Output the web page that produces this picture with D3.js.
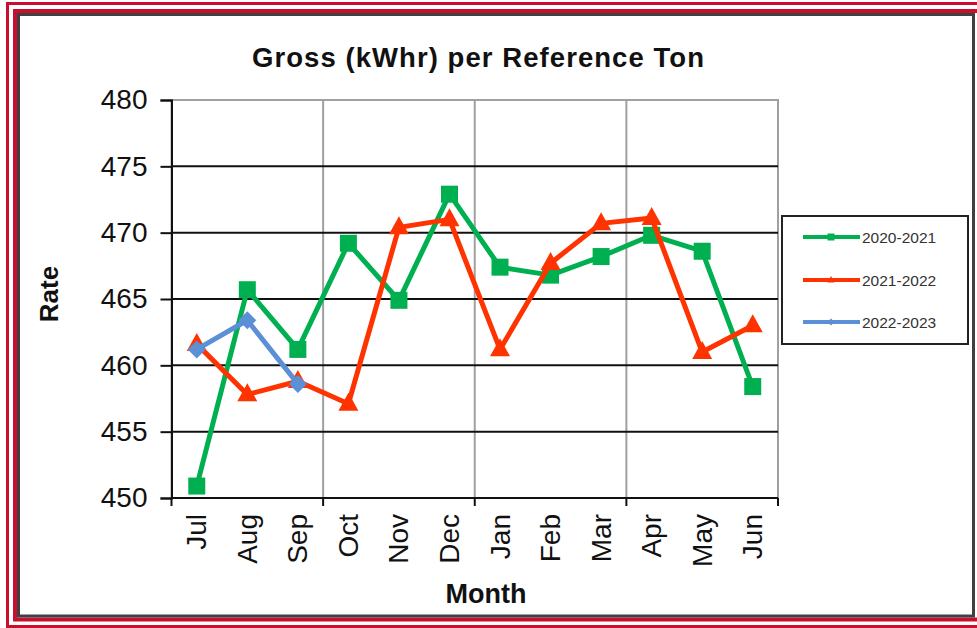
<!DOCTYPE html>
<html><head><meta charset="utf-8">
<script src="https://cdn.jsdelivr.net/npm/d3@7"></script>
<style>html,body{margin:0;padding:0;background:#fff;}svg{display:block;}</style>
</head><body>
<svg id="chart" width="977" height="628"></svg>
<script>
const months = ["Jul","Aug","Sep","Oct","Nov","Dec","Jan","Feb","Mar","Apr","May","Jun"];
const series2020_2021 = [450.9, 465.7, 461.2, 469.2, 464.9, 472.9, 467.4, 466.8, 468.2, 469.8, 468.6, 458.4];
const series2021_2022 = [461.6, 457.8, 458.8, 457.1, 470.4, 471.0, 461.2, 467.7, 470.7, 471.1, 461.0, 463.0];
const series2022_2023 = [461.2, 463.4, 458.6];
const yTicks = [450, 455, 460, 465, 470, 475, 480];
const seriesNames = ["2020-2021", "2021-2022", "2022-2023"];
const seriesColors = ["#00b050", "#ff3300", "#5b8fd6"];
const seriesMarkers = ["square", "triangle", "diamond"];
const seriesValues = [series2020_2021, series2021_2022, series2022_2023];

const svg = d3.select("#chart");
const FONT = "'Liberation Sans', Arial, sans-serif";
const red = "#c8102e";

// Frame
svg.append("rect").attr("x",0).attr("y",0).attr("width",977).attr("height",628).attr("fill","#fff");
svg.append("rect").attr("x",7.5).attr("y",3.5).attr("width",990).attr("height",623).attr("fill","none").attr("stroke",red).attr("stroke-width",3);
svg.append("rect").attr("x",15).attr("y",11).attr("width",990).attr("height",608.5).attr("fill","none").attr("stroke",red).attr("stroke-width",4);
svg.append("rect").attr("x",18.5).attr("y",14.5).attr("width",955).attr("height",601.5).attr("fill","#fff").attr("stroke","#404040").attr("stroke-width",3);

const L = 171.5, R = 778, T = 100, B = 498;
const x = d3.scaleBand().domain(months).range([L, R]).padding(0);
const y = d3.scaleLinear().domain([450, 480]).range([B, T]);

// plot border (gray)
svg.append("rect").attr("x",L).attr("y",T).attr("width",R-L).attr("height",B-T).attr("fill","#fff").attr("stroke","#a0a0a0").attr("stroke-width",2);

// vertical gridlines every 3 categories
const vIdx = [3, 6, 9];
svg.append("g").selectAll("line").data(vIdx).join("line")
  .attr("x1", i => x(months[i])).attr("x2", i => x(months[i]))
  .attr("y1", T).attr("y2", B)
  .attr("stroke", "#a0a0a0").attr("stroke-width", 2);

// horizontal gridlines
svg.append("g").selectAll("line").data(yTicks.filter(v => v > 450 && v < 480)).join("line")
  .attr("x1", L).attr("x2", R).attr("y1", d => y(d)).attr("y2", d => y(d))
  .attr("stroke", "#111").attr("stroke-width", 2);

// Y axis
const yAxis = d3.axisLeft(y).tickValues(yTicks).tickSize(11).tickPadding(13).tickFormat(d3.format("d"));
const gy = svg.append("g").attr("transform", `translate(${L},0)`).call(yAxis);
gy.select(".domain").attr("stroke", "#111").attr("stroke-width", 2);
gy.selectAll(".tick line").attr("stroke", "#111").attr("stroke-width", 2);
gy.selectAll(".tick text").attr("font-family", FONT).attr("font-size", 28).attr("fill", "#111");

// X axis line
svg.append("line").attr("x1", L).attr("x2", R).attr("y1", B).attr("y2", B).attr("stroke", "#111").attr("stroke-width", 2);
const tickIdx = [0, 3, 6, 9, 12];
svg.append("g").selectAll("line").data(tickIdx).join("line")
  .attr("x1", i => i < 12 ? x(months[i]) : R).attr("x2", i => i < 12 ? x(months[i]) : R)
  .attr("y1", B).attr("y2", B + 8).attr("stroke", "#111").attr("stroke-width", 2);

// X labels rotated
svg.append("g").selectAll("text").data(months).join("text")
  .attr("transform", d => `translate(${x(d) + x.bandwidth()/2},514) rotate(-90)`)
  .attr("text-anchor", "end").attr("dominant-baseline", "central")
  .attr("font-family", FONT).attr("font-size", 28).attr("fill", "#111")
  .text(d => d);

// Title
svg.append("text").attr("x", 478).attr("y", 67).attr("text-anchor", "middle")
  .attr("font-family", FONT).attr("font-weight", "bold").attr("font-size", 27.5).attr("fill", "#111")
  .attr("textLength", 452).attr("lengthAdjust", "spacing")
  .text("Gross (kWhr)  per Reference Ton");

// Axis titles
svg.append("text").attr("transform", "translate(58,294) rotate(-90)").attr("text-anchor", "middle")
  .attr("font-family", FONT).attr("font-weight", "bold").attr("font-size", 26).attr("fill", "#111")
  .text("Rate");
svg.append("text").attr("x", 486).attr("y", 603).attr("text-anchor", "middle")
  .attr("font-family", FONT).attr("font-weight", "bold").attr("font-size", 27).attr("fill", "#111")
  .text("Month");

function markerPath(type, s) {
  if (type === "square") return `M${-s/2},${-s/2}h${s}v${s}h${-s}Z`;
  if (type === "triangle") { const h = s*0.9; return `M0,${-h*0.62}L${s/2},${h*0.38}L${-s/2},${h*0.38}Z`; }
  return `M0,${-s/2}L${s/2},0L0,${s/2}L${-s/2},0Z`;
}
const markerSizes = {square: 17, triangle: 20, diamond: 18};

const line = d3.line().x((d, i) => x(months[i]) + x.bandwidth()/2).y(d => y(d));
seriesValues.forEach((vals, k) => {
  const g = svg.append("g");
  g.append("path").datum(vals).attr("d", line).attr("fill", "none")
    .attr("stroke", seriesColors[k]).attr("stroke-width", 5).attr("stroke-linejoin", "round");
  g.selectAll("path.m").data(vals).join("path").attr("class", "m")
    .attr("transform", (d, i) => `translate(${x(months[i]) + x.bandwidth()/2},${y(d)})`)
    .attr("d", markerPath(seriesMarkers[k], markerSizes[seriesMarkers[k]]))
    .attr("fill", seriesColors[k]);
});

// Legend
const lg = svg.append("g");
lg.append("rect").attr("x", 782).attr("y", 216).attr("width", 186).attr("height", 128)
  .attr("fill", "#fff").attr("stroke", "#222").attr("stroke-width", 2);
const legY = [237, 280, 322];
seriesNames.forEach((name, k) => {
  lg.append("line").attr("x1", 803).attr("x2", 860).attr("y1", legY[k]).attr("y2", legY[k])
    .attr("stroke", seriesColors[k]).attr("stroke-width", 4);
  lg.append("path").attr("transform", `translate(831,${legY[k]})`)
    .attr("d", markerPath(seriesMarkers[k], 7)).attr("fill", seriesColors[k]);
  lg.append("text").attr("x", 862).attr("y", legY[k]).attr("dominant-baseline", "central")
    .attr("font-family", FONT).attr("font-size", 15.5).attr("fill", "#333")
    .text(name);
});
</script>
</body></html>
